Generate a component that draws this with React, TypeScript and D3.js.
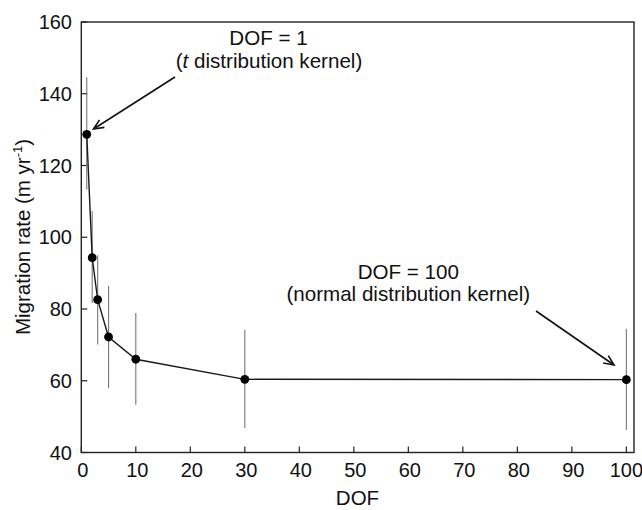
import React from "react";
import * as d3 from "d3";

const dof = [1, 2, 3, 5, 10, 30, 100];
const rate = [128.7, 94.3, 82.6, 72.2, 66.0, 60.4, 60.3];
const errHigh = [144.6, 107.3, 95.0, 86.4, 78.9, 74.2, 74.5];
const errLow = [113.3, 81.7, 70.1, 58.0, 53.3, 46.8, 46.3];
const xTicks = [0, 10, 20, 30, 40, 50, 60, 70, 80, 90, 100];
const yTicks = [40, 60, 80, 100, 120, 140, 160];

const W = 642, H = 510;
const left = 81.3, right = 634, top = 22, bottom = 452.5;
const FONT = "'Liberation Sans', Arial, Helvetica, sans-serif";

export default function App() {
  const x = d3.scaleLinear().domain([0, 101.4]).range([left, right]);
  const y = d3.scaleLinear().domain([40, 160]).range([bottom, top]);
  const line = d3.line<number>().x((_, i) => x(dof[i])).y((v) => y(v));

  const arrowHead = (x1: number, y1: number, x2: number, y2: number) => {
    const a = Math.atan2(y2 - y1, x2 - x1);
    const L = 11, s = 0.42;
    const p1 = [x2 - L * Math.cos(a - s), y2 - L * Math.sin(a - s)];
    const p2 = [x2 - L * Math.cos(a + s), y2 - L * Math.sin(a + s)];
    return `M${p1[0]},${p1[1]}L${x2},${y2}L${p2[0]},${p2[1]}`;
  };

  return (
    <svg width={W} height={H} style={{ position: "absolute", left: 0, top: 0, background: "#fff" }} fontFamily={FONT}>
      {/* frame */}
      <rect x={left} y={top} width={right - left} height={bottom - top} fill="none" stroke="#222" strokeWidth={1.4} />
      {/* x ticks */}
      {xTicks.map((t) => (
        <g key={"x" + t}>
          <line x1={x(t)} x2={x(t)} y1={bottom} y2={bottom - 6} stroke="#222" strokeWidth={1.2} />
          <text x={x(t) + (t === 100 ? 0 : 1.5)} y={477} textAnchor="middle" fontSize={20} fill="#111">{t}</text>
        </g>
      ))}
      {/* y ticks */}
      {yTicks.map((t) => (
        <g key={"y" + t}>
          <line x1={left} x2={left + 6} y1={y(t)} y2={y(t)} stroke="#222" strokeWidth={1.2} />
          <text x={72} y={y(t) + 7} textAnchor="end" fontSize={20} fill="#111">{t}</text>
        </g>
      ))}
      {/* error bars */}
      {dof.map((d, i) => (
        <line key={"e" + i} x1={x(d)} x2={x(d)} y1={y(errHigh[i])} y2={y(errLow[i])} stroke="#777" strokeWidth={1.1} />
      ))}
      {/* line */}
      <path d={line(rate) || ""} fill="none" stroke="#1a1a1a" strokeWidth={1.4} />
      {/* points */}
      {dof.map((d, i) => (
        <circle key={"p" + i} cx={x(d)} cy={y(rate[i])} r={4.4} fill="#000" />
      ))}
      {/* axis titles */}
      <text x={357.5} y={505} textAnchor="middle" fontSize={20.5} fill="#111">DOF</text>
      <text transform="translate(30,237) rotate(-90)" textAnchor="middle" fontSize={20.5} fill="#111">
        Migration rate (m yr<tspan dy={-8} fontSize={13}>-1</tspan><tspan dy={8}>)</tspan>
      </text>
      {/* annotations */}
      <text x={268.5} y={44.5} textAnchor="middle" fontSize={20.6} fill="#111">DOF = 1</text>
      <text x={269} y={68} textAnchor="middle" fontSize={20.6} fill="#111">
        (<tspan fontStyle="italic">t</tspan> distribution kernel)
      </text>
      <line x1={175} y1={77} x2={93.5} y2={129} stroke="#111" strokeWidth={1.6} />
      <path d={arrowHead(175, 77, 93.5, 129)} fill="none" stroke="#111" strokeWidth={1.6} />
      <text x={408.3} y={278.5} textAnchor="middle" fontSize={20.6} fill="#111">DOF = 100</text>
      <text x={408.3} y={301} textAnchor="middle" fontSize={20.6} fill="#111">(normal distribution kernel)</text>
      <line x1={536} y1={311} x2={614} y2={365} stroke="#111" strokeWidth={1.6} />
      <path d={arrowHead(536, 311, 614, 365)} fill="none" stroke="#111" strokeWidth={1.6} />
    </svg>
  );
}
